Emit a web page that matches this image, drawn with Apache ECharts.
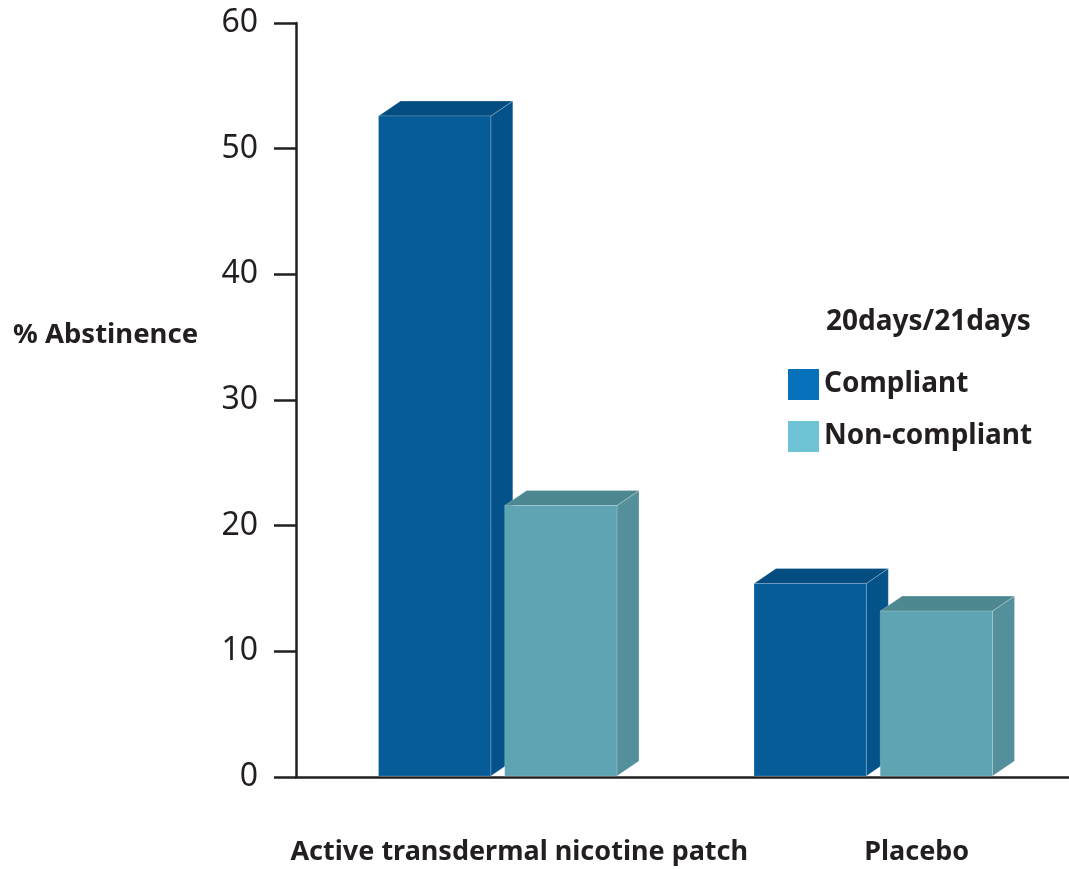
<!DOCTYPE html>
<html>
<head>
<meta charset="utf-8">
<script src="https://cdn.jsdelivr.net/npm/echarts@6/dist/echarts.min.js"></script>
<style>
  html, body { margin: 0; padding: 0; background: #fff; }
  #chart { width: 1069px; height: 869px; }
</style>
</head>
<body>
<div id="chart"></div>
<script>
// data
const categories = ['Active transdermal nicotine patch', 'Placebo'];
const seriesNames = ['Compliant', 'Non-compliant'];
const compliant = [52.6, 15.4];
const nonCompliant = [21.6, 13.2];
const yTicks = [0, 10, 20, 30, 40, 50, 60];

const ink = '#231f20';
const font = '"Noto Sans", sans-serif';

// face colours for the pseudo 3D bars
const faces = {
  Compliant: { front: '#065b99', top: '#044d80', side: '#04528a', legend: '#0670bb' },
  'Non-compliant': { front: '#5fa4b3', top: '#4d878f', side: '#548f9c', legend: '#6ec3d4' },
};

const makeRender = (name, dir) => (params, api) => {
  const c = faces[name];
  const band = api.size([1, 0])[0];
  const base = api.coord([api.value(0), 0]);
  const top = api.coord([api.value(0), api.value(1)]);
  const w = band * 0.299;
  const cx = base[0] + dir * band * 0.168;
  const x0 = cx - w / 2;
  const x1 = cx + w / 2;
  const dx = 22;
  const dy = 15;
  const y0 = top[1];
  const yb = base[1] - 1;
  return {
    type: 'group',
    children: [
      {
        type: 'polygon',
        shape: { points: [[x1, y0], [x1 + dx, y0 - dy], [x1 + dx, yb - dy], [x1, yb]] },
        style: { fill: c.side, stroke: 'rgba(255,255,255,0.25)', lineWidth: 0.8 },
      },
      {
        type: 'polygon',
        shape: { points: [[x0, y0], [x0 + dx, y0 - dy], [x1 + dx, y0 - dy], [x1, y0]] },
        style: { fill: c.top, stroke: 'rgba(255,255,255,0.3)', lineWidth: 0.8 },
      },
      {
        type: 'rect',
        shape: { x: x0, y: y0, width: w, height: yb - y0 },
        style: { fill: c.front, stroke: 'rgba(255,255,255,0.2)', lineWidth: 0.8 },
      },
    ],
  };
};

const toData = (vals) => vals.map((v, i) => [i, v]);

const labelStyle = { fontFamily: font, fontSize: 27, fontWeight: 'bold', color: ink };

const chart = echarts.init(document.getElementById('chart'));
chart.setOption({
  animation: false,
  textStyle: { fontFamily: font },
  title: [
    {
      text: '20days/21days',
      left: 821,
      top: 303,
      textStyle: { fontFamily: font, fontSize: 28, fontWeight: 'bold', color: ink },
    },
    {
      text: '% Abstinence',
      left: 8,
      top: 316,
      textStyle: { fontFamily: font, fontSize: 27.5, fontWeight: 'bold', color: ink },
    },
  ],
  legend: {
    data: seriesNames,
    orient: 'vertical',
    left: 783,
    top: 364,
    icon: 'rect',
    itemWidth: 31,
    itemHeight: 31,
    itemGap: 21,
    selectedMode: false,
    textStyle: {
      fontFamily: font,
      fontSize: 28,
      fontWeight: 'bold',
      color: ink,
    },
  },
  grid: [
    // plot area holding the bars and the category labels
    { left: 310, right: 8, top: 23, bottom: 92 },
    // full width frame for the long baseline
    { left: 296, right: 0, top: 23, bottom: 92 },
  ],
  xAxis: [
    {
      type: 'category',
      gridIndex: 0,
      data: categories,
      axisLine: { show: false },
      axisTick: { show: false },
      axisLabel: {
        interval: 0,
        hideOverlap: false,
        margin: 62,
        formatter: (v, i) => (i === 0 ? `{a|${v}}` : `{b|${v}}`),
        rich: {
          a: { ...labelStyle, padding: [0, 0, 0, 43] },
          b: { ...labelStyle, padding: [0, 0, 0, 87] },
        },
      },
    },
    {
      type: 'category',
      gridIndex: 1,
      data: categories,
      axisLine: { lineStyle: { color: ink, width: 2.5 } },
      axisTick: { show: false },
      axisLabel: { show: false },
    },
  ],
  yAxis: [
    {
      type: 'value',
      gridIndex: 0,
      min: yTicks[0],
      max: yTicks[yTicks.length - 1],
      interval: 10,
      offset: 14,
      axisLine: { show: true, lineStyle: { color: ink, width: 2.5 } },
      axisTick: { show: true, length: 22, lineStyle: { color: ink, width: 2.5 } },
      splitLine: { show: false },
      axisLabel: {
        fontFamily: font,
        fontSize: 32,
        color: ink,
        margin: 38,
      },
    },
    {
      type: 'value',
      gridIndex: 1,
      min: yTicks[0],
      max: yTicks[yTicks.length - 1],
      show: false,
    },
  ],
  series: [
    {
      name: seriesNames[0],
      type: 'custom',
      itemStyle: { color: faces.Compliant.legend },
      renderItem: makeRender('Compliant', -1),
      data: toData(compliant),
    },
    {
      name: seriesNames[1],
      type: 'custom',
      itemStyle: { color: faces['Non-compliant'].legend },
      renderItem: makeRender('Non-compliant', 1),
      data: toData(nonCompliant),
    },
  ],
});
</script>
</body>
</html>
